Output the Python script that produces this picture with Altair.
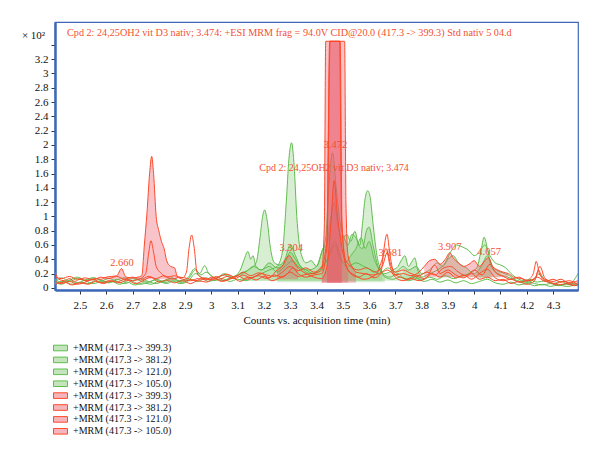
import altair as alt
import pandas as pd

TITLE = "Cpd 2: 24,25OH2 vit D3 nativ; 3.474: +ESI MRM frag = 94.0V CID@20.0 (417.3 -> 399.3) Std nativ 5 04.d"

TRANSITIONS = ["+MRM (417.3 -> 399.3)", "+MRM (417.3 -> 381.2)",
               "+MRM (417.3 -> 121.0)", "+MRM (417.3 -> 105.0)"]

X_TICKS = [2.5, 2.6, 2.7, 2.8, 2.9, 3.0, 3.1, 3.2, 3.3, 3.4, 3.5, 3.6, 3.7, 3.8, 3.9, 4.0, 4.1, 4.2, 4.3]
Y_TICKS = [0, 0.2, 0.4, 0.6, 0.8, 1.0, 1.2, 1.4, 1.6, 1.8, 2.0, 2.2, 2.4, 2.6, 2.8, 3.0, 3.2, 3.4]

# (time, counts x10^2) for each trace; saturated detector points read 3.45
G1 = [(2.405, 0.06), (2.44, 0.09), (2.47, 0.05), (2.50, 0.08), (2.53, 0.06), (2.56, 0.10), (2.59, 0.07),
      (2.62, 0.09), (2.65, 0.05), (2.68, 0.08), (2.71, 0.04), (2.74, 0.07), (2.77, 0.05), (2.80, 0.09),
      (2.83, 0.06), (2.86, 0.10), (2.89, 0.07), (2.92, 0.12), (2.95, 0.09), (2.98, 0.14), (3.01, 0.10),
      (3.04, 0.13), (3.07, 0.09), (3.10, 0.12), (3.13, 0.10), (3.16, 0.15), (3.19, 0.20), (3.22, 0.25),
      (3.25, 0.30), (3.27, 0.50), (3.285, 1.20), (3.295, 1.80), (3.305, 2.03), (3.315, 1.70), (3.325, 1.00),
      (3.34, 0.50), (3.36, 0.35), (3.38, 0.38), (3.40, 0.30), (3.42, 0.50), (3.435, 0.70), (3.445, 1.30),
      (3.461, 1.89), (3.475, 1.40), (3.49, 0.90), (3.505, 0.70), (3.52, 0.60), (3.535, 0.75), (3.55, 0.70),
      (3.565, 0.60), (3.575, 0.90), (3.585, 1.25), (3.595, 1.36), (3.605, 1.25), (3.615, 0.90), (3.63, 0.45),
      (3.645, 0.25), (3.66, 0.15), (3.69, 0.12), (3.72, 0.15), (3.75, 0.10), (3.78, 0.13), (3.81, 0.09),
      (3.84, 0.12), (3.87, 0.08), (3.90, 0.11), (3.93, 0.07), (3.96, 0.10), (3.99, 0.06), (4.02, 0.09),
      (4.05, 0.12), (4.08, 0.07), (4.11, 0.05), (4.14, 0.08), (4.17, 0.04), (4.20, 0.06), (4.23, 0.03),
      (4.26, 0.05), (4.29, 0.02), (4.32, 0.04), (4.35, 0.02), (4.395, 0.05)]

G2 = [(2.405, 0.10), (2.43, 0.14), (2.46, 0.09), (2.49, 0.13), (2.52, 0.10), (2.55, 0.14), (2.58, 0.11),
      (2.61, 0.08), (2.64, 0.12), (2.67, 0.09), (2.70, 0.13), (2.73, 0.10), (2.76, 0.08), (2.79, 0.12),
      (2.82, 0.09), (2.85, 0.13), (2.88, 0.10), (2.91, 0.14), (2.937, 0.27), (2.955, 0.20), (2.975, 0.31),
      (2.99, 0.20), (3.02, 0.14), (3.05, 0.18), (3.08, 0.13), (3.11, 0.20), (3.14, 0.25), (3.17, 0.35),
      (3.185, 0.70), (3.195, 1.00), (3.203, 1.09), (3.212, 0.95), (3.225, 0.55), (3.24, 0.35), (3.26, 0.32),
      (3.28, 0.40), (3.30, 0.60), (3.32, 0.45), (3.34, 0.30), (3.37, 0.25), (3.40, 0.30), (3.425, 0.55),
      (3.44, 0.62), (3.455, 1.00), (3.468, 1.20), (3.48, 0.90), (3.50, 0.70), (3.515, 0.75), (3.53, 0.65),
      (3.546, 0.79), (3.56, 0.60), (3.575, 0.55), (3.59, 0.80), (3.60, 0.85), (3.615, 0.60), (3.63, 0.35),
      (3.65, 0.20), (3.68, 0.15), (3.71, 0.20), (3.74, 0.12), (3.77, 0.16), (3.80, 0.11), (3.83, 0.15),
      (3.86, 0.12), (3.89, 0.17), (3.92, 0.13), (3.95, 0.16), (3.98, 0.20), (4.01, 0.28), (4.025, 0.50),
      (4.038, 0.71), (4.05, 0.55), (4.065, 0.30), (4.09, 0.20), (4.12, 0.16), (4.15, 0.12), (4.18, 0.09),
      (4.21, 0.12), (4.24, 0.08), (4.27, 0.10), (4.30, 0.06), (4.33, 0.09), (4.36, 0.05), (4.395, 0.20)]

G3 = [(2.405, 0.08), (2.43, 0.05), (2.46, 0.10), (2.49, 0.07), (2.52, 0.11), (2.55, 0.14), (2.58, 0.10),
      (2.61, 0.07), (2.64, 0.11), (2.67, 0.14), (2.70, 0.09), (2.73, 0.05), (2.76, 0.08), (2.79, 0.11),
      (2.82, 0.07), (2.85, 0.10), (2.88, 0.06), (2.91, 0.09), (2.94, 0.20), (2.96, 0.15), (2.99, 0.09),
      (3.02, 0.13), (3.05, 0.20), (3.08, 0.15), (3.11, 0.25), (3.125, 0.40), (3.139, 0.51), (3.15, 0.40),
      (3.158, 0.45), (3.17, 0.30), (3.19, 0.25), (3.22, 0.35), (3.25, 0.28), (3.28, 0.35), (3.30, 0.50),
      (3.32, 0.40), (3.35, 0.25), (3.38, 0.20), (3.41, 0.25), (3.44, 0.40), (3.47, 0.65), (3.49, 0.45),
      (3.51, 0.35), (3.53, 0.45), (3.55, 0.55), (3.57, 0.70), (3.585, 0.55), (3.60, 0.65), (3.62, 0.40),
      (3.64, 0.25), (3.66, 0.20), (3.69, 0.25), (3.71, 0.30), (3.725, 0.40), (3.736, 0.45), (3.75, 0.30),
      (3.765, 0.38), (3.774, 0.42), (3.785, 0.25), (3.80, 0.15), (3.83, 0.20), (3.86, 0.25), (3.89, 0.35),
      (3.91, 0.50), (3.932, 0.60), (3.95, 0.58), (3.98, 0.52), (4.00, 0.45), (4.02, 0.50), (4.04, 0.60),
      (4.06, 0.45), (4.08, 0.35), (4.10, 0.32), (4.12, 0.28), (4.14, 0.20), (4.17, 0.12), (4.20, 0.09),
      (4.23, 0.06), (4.26, 0.04), (4.29, 0.06), (4.32, 0.03), (4.35, 0.05), (4.395, 0.03)]

G4 = [(2.405, 0.12), (2.43, 0.08), (2.46, 0.11), (2.49, 0.15), (2.52, 0.10), (2.55, 0.06), (2.58, 0.09),
      (2.61, 0.13), (2.64, 0.09), (2.67, 0.06), (2.70, 0.10), (2.73, 0.13), (2.76, 0.09), (2.79, 0.06),
      (2.82, 0.10), (2.85, 0.14), (2.88, 0.09), (2.91, 0.12), (2.94, 0.25), (2.96, 0.18), (2.98, 0.22),
      (3.01, 0.14), (3.04, 0.10), (3.07, 0.14), (3.10, 0.18), (3.13, 0.22), (3.16, 0.30), (3.19, 0.25),
      (3.22, 0.30), (3.25, 0.22), (3.28, 0.30), (3.31, 0.38), (3.33, 0.30), (3.36, 0.25), (3.39, 0.20),
      (3.42, 0.28), (3.45, 0.45), (3.47, 0.60), (3.49, 0.40), (3.52, 0.30), (3.55, 0.35), (3.58, 0.30),
      (3.61, 0.25), (3.64, 0.20), (3.67, 0.28), (3.70, 0.22), (3.73, 0.30), (3.75, 0.25), (3.78, 0.30),
      (3.80, 0.20), (3.83, 0.25), (3.86, 0.35), (3.88, 0.30), (3.90, 0.40), (3.92, 0.45), (3.94, 0.35),
      (3.97, 0.28), (4.00, 0.20), (4.03, 0.32), (4.05, 0.45), (4.07, 0.30), (4.10, 0.22), (4.13, 0.18),
      (4.16, 0.10), (4.19, 0.07), (4.22, 0.10), (4.25, 0.20), (4.27, 0.10), (4.30, 0.06), (4.33, 0.04),
      (4.36, 0.07), (4.395, 0.03)]

R1 = [(2.405, 0.22), (2.42, 0.12), (2.44, 0.10), (2.46, 0.13), (2.48, 0.09), (2.50, 0.12), (2.53, 0.10),
      (2.56, 0.13), (2.58, 0.12), (2.60, 0.15), (2.62, 0.16), (2.64, 0.17), (2.658, 0.27), (2.675, 0.15),
      (2.70, 0.14), (2.72, 0.15), (2.735, 0.17), (2.745, 0.60), (2.755, 1.05), (2.765, 1.60), (2.773, 1.84),
      (2.78, 1.60), (2.79, 1.00), (2.80, 0.80), (2.81, 0.65), (2.82, 0.55), (2.83, 0.38), (2.845, 0.30),
      (2.86, 0.28), (2.87, 0.16), (2.89, 0.12), (2.92, 0.10), (2.95, 0.13), (2.98, 0.11), (3.00, 0.15),
      (3.03, 0.12), (3.06, 0.16), (3.09, 0.13), (3.12, 0.18), (3.15, 0.14), (3.18, 0.17), (3.21, 0.13),
      (3.24, 0.18), (3.27, 0.15), (3.30, 0.22), (3.33, 0.16), (3.36, 0.19), (3.39, 0.20), (3.42, 0.25),
      (3.43, 0.90), (3.435, 3.45), (3.507, 3.45), (3.512, 1.20), (3.52, 0.45), (3.535, 0.30), (3.55, 0.22),
      (3.58, 0.20), (3.61, 0.18), (3.64, 0.20), (3.67, 0.25), (3.70, 0.18), (3.73, 0.20), (3.76, 0.17),
      (3.79, 0.22), (3.81, 0.30), (3.83, 0.38), (3.85, 0.40), (3.87, 0.33), (3.89, 0.40), (3.907, 0.49),
      (3.92, 0.42), (3.94, 0.35), (3.96, 0.30), (3.98, 0.33), (4.00, 0.38), (4.02, 0.30), (4.04, 0.38),
      (4.055, 0.42), (4.07, 0.30), (4.09, 0.25), (4.11, 0.22), (4.13, 0.20), (4.15, 0.15), (4.18, 0.13),
      (4.21, 0.10), (4.24, 0.15), (4.27, 0.09), (4.30, 0.12), (4.33, 0.08), (4.36, 0.10), (4.395, 0.05)]

R2 = [(2.405, 0.10), (2.43, 0.06), (2.46, 0.09), (2.49, 0.05), (2.52, 0.08), (2.55, 0.12), (2.58, 0.07),
      (2.61, 0.10), (2.64, 0.08), (2.67, 0.12), (2.70, 0.10), (2.73, 0.13), (2.75, 0.20), (2.762, 0.50),
      (2.77, 0.66), (2.78, 0.50), (2.79, 0.30), (2.81, 0.20), (2.83, 0.15), (2.86, 0.17), (2.89, 0.14),
      (2.905, 0.22), (2.915, 0.55), (2.925, 0.74), (2.935, 0.55), (2.945, 0.22), (2.96, 0.15), (2.99, 0.12),
      (3.02, 0.16), (3.05, 0.10), (3.08, 0.14), (3.11, 0.09), (3.14, 0.15), (3.17, 0.11), (3.20, 0.16),
      (3.23, 0.10), (3.26, 0.14), (3.29, 0.20), (3.31, 0.28), (3.33, 0.20), (3.36, 0.15), (3.39, 0.18),
      (3.42, 0.20), (3.44, 0.60), (3.45, 3.45), (3.49, 3.45), (3.497, 0.90), (3.51, 0.35), (3.53, 0.20),
      (3.56, 0.15), (3.59, 0.20), (3.62, 0.14), (3.645, 0.20), (3.655, 0.50), (3.668, 0.75), (3.68, 0.45),
      (3.695, 0.20), (3.72, 0.15), (3.75, 0.12), (3.78, 0.16), (3.81, 0.13), (3.84, 0.20), (3.87, 0.15),
      (3.90, 0.22), (3.93, 0.14), (3.96, 0.18), (3.99, 0.12), (4.02, 0.20), (4.05, 0.26), (4.08, 0.14),
      (4.11, 0.10), (4.14, 0.12), (4.17, 0.08), (4.20, 0.10), (4.225, 0.20), (4.236, 0.37), (4.25, 0.18),
      (4.28, 0.10), (4.31, 0.06), (4.34, 0.09), (4.37, 0.05), (4.395, 0.07)]

R3 = [(2.405, 0.05), (2.44, 0.08), (2.47, 0.04), (2.50, 0.07), (2.53, 0.05), (2.56, 0.09), (2.59, 0.06),
      (2.62, 0.10), (2.65, 0.07), (2.68, 0.11), (2.71, 0.06), (2.74, 0.10), (2.77, 0.15), (2.80, 0.08),
      (2.83, 0.11), (2.86, 0.07), (2.89, 0.10), (2.92, 0.06), (2.95, 0.10), (2.98, 0.08), (3.01, 0.13),
      (3.04, 0.09), (3.07, 0.12), (3.10, 0.17), (3.13, 0.12), (3.16, 0.15), (3.19, 0.20), (3.22, 0.14),
      (3.25, 0.25), (3.27, 0.30), (3.285, 0.42), (3.298, 0.45), (3.31, 0.38), (3.33, 0.28), (3.36, 0.20),
      (3.39, 0.15), (3.42, 0.13), (3.44, 0.30), (3.455, 0.90), (3.467, 1.50), (3.48, 1.00), (3.50, 0.50),
      (3.52, 0.25), (3.55, 0.17), (3.58, 0.12), (3.61, 0.15), (3.63, 0.20), (3.65, 0.40), (3.665, 0.55),
      (3.68, 0.30), (3.70, 0.15), (3.73, 0.10), (3.76, 0.13), (3.79, 0.10), (3.82, 0.15), (3.85, 0.32),
      (3.87, 0.20), (3.90, 0.25), (3.93, 0.18), (3.96, 0.14), (3.99, 0.20), (4.02, 0.12), (4.05, 0.15),
      (4.08, 0.10), (4.11, 0.12), (4.14, 0.06), (4.17, 0.09), (4.20, 0.05), (4.23, 0.10), (4.245, 0.25),
      (4.26, 0.12), (4.29, 0.07), (4.32, 0.04), (4.35, 0.06), (4.38, 0.03), (4.395, 0.04)]

R4 = [(2.405, 0.15), (2.43, 0.13), (2.46, 0.16), (2.49, 0.12), (2.52, 0.14), (2.55, 0.11), (2.58, 0.15),
      (2.61, 0.13), (2.64, 0.16), (2.67, 0.12), (2.70, 0.15), (2.73, 0.11), (2.76, 0.16), (2.79, 0.13),
      (2.82, 0.17), (2.85, 0.12), (2.88, 0.15), (2.91, 0.13), (2.94, 0.10), (2.97, 0.14), (3.00, 0.11),
      (3.03, 0.16), (3.06, 0.19), (3.09, 0.15), (3.12, 0.22), (3.15, 0.17), (3.18, 0.21), (3.21, 0.18),
      (3.24, 0.16), (3.27, 0.22), (3.30, 0.30), (3.33, 0.24), (3.36, 0.28), (3.39, 0.22), (3.42, 0.30),
      (3.44, 0.70), (3.452, 3.45), (3.488, 3.45), (3.495, 1.00), (3.51, 0.40), (3.53, 0.30), (3.56, 0.25),
      (3.59, 0.28), (3.62, 0.22), (3.65, 0.30), (3.67, 0.50), (3.68, 0.35), (3.70, 0.22), (3.73, 0.25),
      (3.76, 0.20), (3.79, 0.17), (3.82, 0.22), (3.85, 0.18), (3.88, 0.27), (3.91, 0.30), (3.94, 0.22),
      (3.97, 0.17), (4.00, 0.25), (4.03, 0.18), (4.06, 0.33), (4.08, 0.22), (4.11, 0.16), (4.14, 0.12),
      (4.17, 0.15), (4.20, 0.10), (4.23, 0.12), (4.25, 0.30), (4.27, 0.13), (4.30, 0.09), (4.33, 0.12),
      (4.36, 0.07), (4.395, 0.10)]

GREEN_TRACES = [G1, G2, G3, G4]
RED_TRACES = [R1, R2, R3, R4]

# integrated regions: (trace index 0-7, start, end, baseline)
INTEGRATIONS = [
    (0, 3.24, 3.665, 0.08),
    (1, 3.10, 3.665, 0.10), (1, 4.00, 4.08, 0.12),
    (2, 3.10, 3.80, 0.10),
    (3, 3.72, 3.80, 0.12), (3, 3.86, 4.12, 0.15),
    (4, 2.57, 2.875, 0.12), (4, 3.42, 3.56, 0.07), (4, 3.80, 4.13, 0.15),
    (5, 3.44, 3.50, 0.07),
    (6, 3.25, 3.34, 0.12), (6, 3.42, 3.53, 0.07),
    (7, 3.44, 3.50, 0.07),
]

# retention-time annotations
PEAK_T = [2.660, 3.304, 3.472, 3.681, 3.907, 4.057]
PEAK_Y = [0.35, 0.56, 2.00, 0.49, 0.57, 0.50]
PEAK_TEXT = ["2.660", "3.304", "3.472", "3.681", "3.907", "4.057"]
CPD_T, CPD_Y, CPD_TEXT = [3.474], [1.68], ["Cpd 2: 24,25OH2 vit D3 nativ; 3.474"]

GREEN_LINE, GREEN_FILL = "#62bd50", "#7cc66a"
RED_LINE, RED_FILL = "#ff4a2a", "#ec5a68"
FRAME = "#3d68b8"
LABEL_RED = "#f4502f"
FONT = "Liberation Serif"

keys = [f"{i}|{name}" for i, name in enumerate(TRANSITIONS + TRANSITIONS)]
fill_keys = [f"f{k}" for k in keys]
all_traces = GREEN_TRACES + RED_TRACES

lines = pd.concat(
    [pd.DataFrame(tr, columns=["t", "v"]).assign(key=keys[i], grp="green" if i < 4 else "red")
     for i, tr in enumerate(all_traces)],
    ignore_index=True,
)

area_parts = []
for seg_id, (idx, t0, t1, base) in enumerate(INTEGRATIONS):
    tr = pd.DataFrame(all_traces[idx], columns=["t", "v"])
    part = tr[(tr.t >= t0) & (tr.t <= t1)].copy()
    part["base"] = base
    part["seg"] = seg_id
    part["fkey"] = fill_keys[idx]
    part["grp"] = "green" if idx < 4 else "red"
    area_parts.append(part)
areas = pd.concat(area_parts, ignore_index=True)

peaks = pd.DataFrame({"t": PEAK_T, "v": PEAK_Y, "text": PEAK_TEXT})
cpd = pd.DataFrame({"t": CPD_T, "v": CPD_Y, "text": CPD_TEXT})

x_scale = alt.Scale(domain=[2.405, 4.395], nice=False, zero=False)
y_scale = alt.Scale(domain=[-0.03, 3.72], nice=False, zero=False)
fill_scale = alt.Scale(domain=fill_keys, range=[GREEN_FILL] * 4 + [RED_FILL] * 4)
stroke_scale = alt.Scale(domain=keys, range=[GREEN_LINE] * 4 + [RED_LINE] * 4)

# two stacked legends: pale fill swatches with labels, and outlines on top
LEGEND_COMMON = dict(
    title=None, orient="none", legendX=-2, legendY=321,
    symbolType="M-1,-0.4H1V0.4H-1Z", symbolSize=196,
    labelFont=FONT, labelFontSize=10, labelColor="#111111", labelOffset=6,
    clipHeight=10, rowPadding=1.9,
)
fill_legend = alt.Legend(symbolOpacity=0.45, symbolStrokeWidth=0,
                         labelExpr="substring(datum.label, 3)", **LEGEND_COMMON)
stroke_legend = alt.Legend(symbolFillColor="transparent", symbolStrokeWidth=1, labelOpacity=0,
                           labelExpr="substring(datum.label, 2)", **LEGEND_COMMON)

x_enc = alt.X("t:Q", scale=x_scale,
              axis=alt.Axis(values=X_TICKS, title="Counts vs. acquisition time (min)",
                            labelExpr="format(datum.value, '~g')", grid=False))
y_enc = alt.Y("v:Q", scale=y_scale,
              axis=alt.Axis(values=Y_TICKS, title="\u00d7 10\u00b2", grid=False,
                            labelExpr="datum.value > 3.3 ? '' : format(datum.value, '~g')",
                            titleAngle=0, titleX=-22, titleY=13, titleAlign="center",
                            titleBaseline="middle", titleFontSize=11, titleFontWeight="normal"))


def area_layer(group, opacity):
    return alt.Chart(areas).transform_filter(alt.datum.grp == group).mark_area(
        interpolate="monotone", fillOpacity=opacity, clip=True
    ).encode(
        x=x_enc, y=y_enc, y2="base:Q",
        fill=alt.Fill("fkey:N", scale=fill_scale, legend=fill_legend),
        detail="seg:N",
    )


def line_layer(group):
    return alt.Chart(lines).transform_filter(alt.datum.grp == group).mark_line(
        interpolate="monotone", strokeWidth=1, clip=True
    ).encode(
        x=x_enc, y=y_enc,
        stroke=alt.Stroke("key:N", scale=stroke_scale, legend=stroke_legend),
    )


labels = alt.Chart(peaks).mark_text(
    font=FONT, fontSize=10.5, color=LABEL_RED, baseline="middle", align="center"
).encode(x=x_enc, y=y_enc, text="text:N")

cpd_label = alt.Chart(cpd).mark_text(
    font=FONT, fontSize=10, color=LABEL_RED, baseline="middle", align="center", dx=-2
).encode(x=x_enc, y=y_enc, text="text:N")

chart = alt.layer(
    area_layer("green", 0.3), line_layer("green"), area_layer("red", 0.36), line_layer("red"),
    labels, cpd_label
).properties(
    width=523, height=268,
    title=alt.TitleParams(TITLE, anchor="start", orient="top", frame="group", offset=-21, dx=12,
                          baseline="middle", font=FONT, fontSize=10.2,
                          fontWeight="normal", color=LABEL_RED),
    autosize=alt.AutoSizeParams(type="none"),
    padding={"left": 55, "top": 22, "right": 22, "bottom": 167},
).configure_view(
    stroke=FRAME, strokeWidth=1.2
).configure_axis(
    labelFont=FONT, labelFontSize=11, labelColor="#111111",
    titleFont=FONT, titleFontSize=11, titleFontWeight="normal", titleColor="#111111",
    tickColor="#333333", tickSize=4, domainColor=FRAME, domainWidth=2.5,
).configure_axisX(
    labelPadding=5, titlePadding=4,
).configure_axisY(
    labelPadding=3,
)

chart.save("out.html", embed_options={"renderer": "svg", "actions": False})
